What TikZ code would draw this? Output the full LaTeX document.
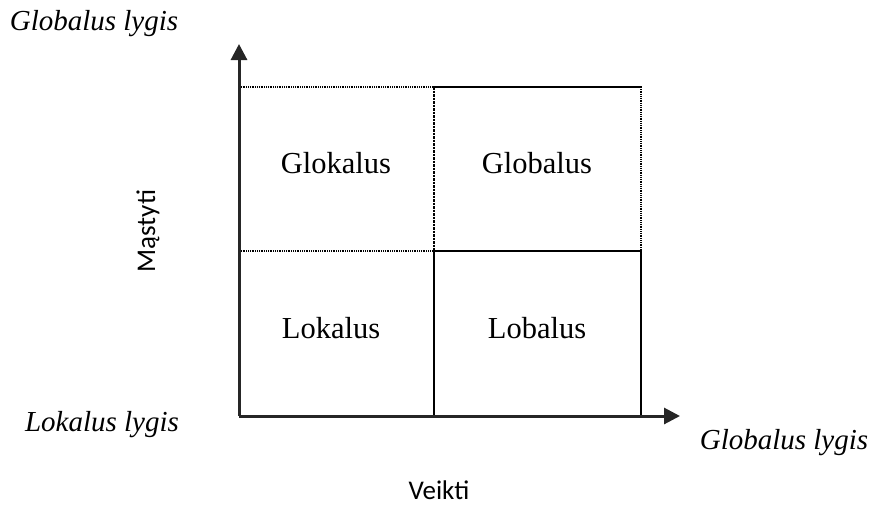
\documentclass[tikz,border=0pt]{standalone}
\usepackage{fontspec}
\setmainfont{Liberation Serif}
\newfontfamily\calib{Carlito}
\usetikzlibrary{arrows.meta}
\begin{document}
\begin{tikzpicture}[x=1pt,y=-1pt,
  solidedge/.style={line width=2.5pt,line cap=rect},
  dotedge/.style={line width=1.7pt,dash pattern=on 1pt off 0.8pt},
  axisline/.style={line width=3pt,draw=black!85,-{Triangle[width=16pt,length=16pt]}},
  celltext/.style={font=\fontsize{30.5}{34}\selectfont},
  axtext/.style={font=\fontsize{29}{33}\selectfont\itshape},
  sanstext/.style={font=\fontsize{27}{30}\selectfont\calib}]
\useasboundingbox (0,0) rectangle (870,509);
% grid coordinates
\coordinate (tl) at (239,87);
\coordinate (tm) at (434,87);
\coordinate (tr) at (641,87);
\coordinate (ml) at (239,251);
\coordinate (mm) at (434,251);
\coordinate (mr) at (641,251);
\coordinate (bl) at (239,416);
\coordinate (bm) at (434,416);
\coordinate (br) at (641,416);
\coordinate (ytip) at (239,44);
\coordinate (xtip) at (680,416);
% dotted lines
\draw[dotedge] (tl) -- (tm);
\draw[dotedge] (ml) -- (mm);
\draw[dotedge] (tr) -- (mr);
\draw[line width=2.5pt,dash pattern=on 2.5pt off 1pt] (tm) -- (mm);
% solid box lines
\draw[solidedge] (tm) -- (tr);
\draw[solidedge] (mm) -- (mr) -- (br);
\draw[solidedge] (mm) -- (bm);
% axes
\draw[axisline] (bl) -- (ytip);
\draw[axisline] (bl) -- (xtip);
% cell labels
\node[celltext] (glok) at (336,163) {Glokalus};
\node[celltext] (glob) at (537,163) {Globalus};
\node[celltext] (lok) at (331,328) {Lokalus};
\node[celltext] (lob) at (537,328) {Lobalus};
% axis labels
\node[axtext] (gtop) at (94,24) {Globalus lygis};
\node[axtext] (lleft) at (102,425) {Lokalus lygis};
\node[axtext] (gright) at (784,443) {Globalus lygis};
\node[sanstext,rotate=90] (mast) at (148,231) {Mąstyti};
\node[sanstext] (veik) at (439,490) {Veikti};
\end{tikzpicture}
\end{document}
